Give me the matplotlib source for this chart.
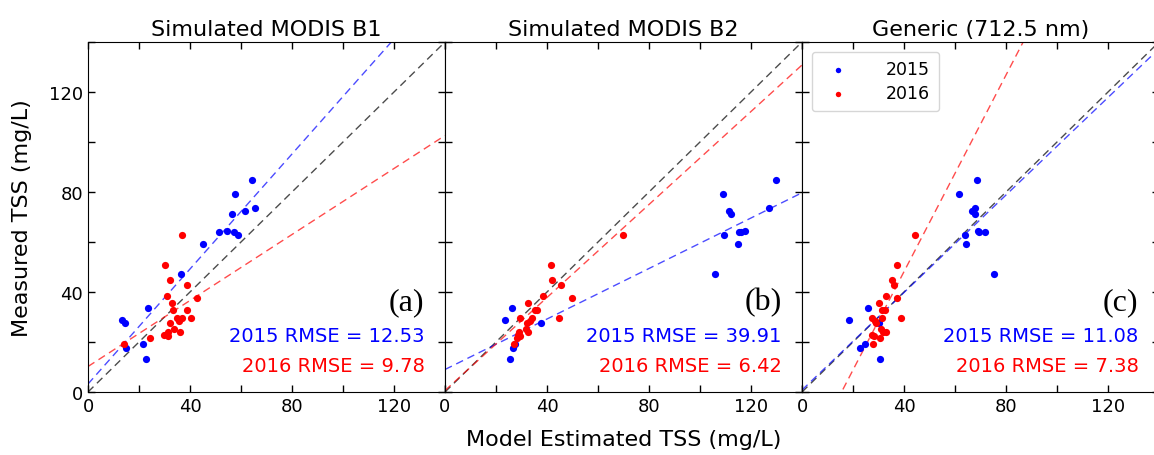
import numpy as np
import matplotlib.pyplot as plt

titles = ['Simulated MODIS B1', 'Simulated MODIS B2', 'Generic (712.5 nm)']
panel_tags = ['(a)', '(b)', '(c)']

# measured TSS (same for every panel)
meas_2015 = [28.7, 27.7, 17.5, 19.2, 13.3, 33.5, 47.1, 59.2, 63.9, 64.5, 71.2,
             63.9, 79.2, 62.7, 72.5, 84.7, 73.6]
meas_2016 = [62.9, 50.7, 44.9, 42.8, 38.3, 37.5, 35.7, 32.7, 32.7, 29.5, 29.7,
             29.5, 28.5, 27.7, 25.2, 23.9, 23.9, 22.9, 22.3, 21.7, 19.1]

# model estimates per panel
est_2015_b1 = [13.5, 14.4, 14.8, 21.6, 22.7, 23.6, 36.6, 45.0, 51.2, 54.5, 56.5,
               57.1, 57.8, 58.7, 61.7, 64.4, 65.5]
est_2015_b2 = [23.4, 37.5, 26.8, 27.3, 25.3, 26.2, 105.9, 114.8, 115.2, 117.8, 112.0,
               116.2, 109.0, 109.6, 111.5, 129.9, 126.9]
est_2015_gen = [18.6, 30.3, 22.6, 24.7, 30.4, 25.7, 75.2, 64.5, 69.6, 68.9, 68.0,
                71.8, 61.7, 63.8, 66.5, 68.8, 67.8]

est_2016_b1 = [36.9, 30.0, 32.3, 38.8, 30.9, 42.7, 32.9, 33.4, 38.7, 34.8, 37.0,
               40.5, 35.6, 32.3, 33.6, 31.4, 36.0, 29.7, 31.2, 24.4, 14.2]
est_2016_b2 = [69.7, 41.5, 41.8, 45.6, 38.5, 49.7, 32.7, 35.3, 36.0, 29.5, 34.3,
               44.6, 33.5, 32.2, 31.9, 32.7, 29.0, 28.7, 29.6, 28.3, 26.9]
est_2016_gen = [44.3, 37.4, 35.3, 36.2, 32.9, 37.4, 30.2, 32.7, 31.5, 31.4, 38.8,
                27.6, 28.5, 29.0, 30.9, 31.8, 32.8, 27.6, 28.3, 30.5, 27.9]

# fitted lines (slope, intercept)
fit_2015 = [(1.15, 3.2), (0.505, 9.0), (0.975, 0.8)]
fit_2016 = [(0.66, 10.2), (0.93, 0.6), (1.966, -30.5)]

rmse_2015 = ['12.53', '39.91', '11.08']
rmse_2016 = ['9.78', '6.42', '7.38']

est_2015 = [est_2015_b1, est_2015_b2, est_2015_gen]
est_2016 = [est_2016_b1, est_2016_b2, est_2016_gen]

W, H = 1154, 456
fig = plt.figure(figsize=(W / 100, H / 100), dpi=100)

lefts = [88, 445, 802]
xx = np.array([0, 140])
dash = (5.5, 3.5)
for i in range(3):
    ax = fig.add_axes([lefts[i] / W, (H - 393) / H, 357 / W, 350 / H])
    ax.plot(xx, xx, color='k', lw=1, alpha=0.7, dashes=dash)
    m, b = fit_2015[i]
    ax.plot(xx, m * xx + b, color='b', lw=1, alpha=0.7, dashes=dash)
    m, b = fit_2016[i]
    ax.plot(xx, m * xx + b, color='r', lw=1, alpha=0.7, dashes=dash)
    ax.scatter(est_2015[i], meas_2015, s=27, color='b', lw=0, label='2015', zorder=3)
    ax.scatter(est_2016[i], meas_2016, s=27, color='r', lw=0, label='2016', zorder=3)
    ax.set_xlim(0, 140)
    ax.set_ylim(0, 140)
    ax.set_xticks([0, 40, 80, 120])
    ax.set_xticks([20, 60, 100, 140], minor=True)
    ax.set_yticks([0, 40, 80, 120])
    ax.set_yticks([20, 60, 100, 140], minor=True)
    ax.tick_params(which='both', direction='in', top=True, right=True,
                   length=5, width=1, labelsize=13)
    if i > 0:
        ax.set_yticklabels([])
    ax.set_title(titles[i], fontsize=16, pad=5)
    ax.text(132, 36.3, panel_tags[i], ha='right', va='center', fontsize=23,
            family='Liberation Serif')
    ax.text(132, 22.5, '2015 RMSE = ' + rmse_2015[i], ha='right', va='center',
            fontsize=14, color='b')
    ax.text(132, 10.5, '2016 RMSE = ' + rmse_2016[i], ha='right', va='center',
            fontsize=14, color='r')
    if i == 0:
        ax.set_ylabel('Measured TSS (mg/L)', fontsize=16, labelpad=12)
    if i == 1:
        ax.set_xlabel('Model Estimated TSS (mg/L)', fontsize=16, labelpad=10)
    if i == 2:
        ax.legend(loc='upper left', fontsize=12.5, markerscale=0.75, handletextpad=1.8,
                  borderpad=0.5, labelspacing=0.35, bbox_to_anchor=(0.0, 1.0),
                  borderaxespad=0.55)

fig.savefig('out.png', dpi=100)
